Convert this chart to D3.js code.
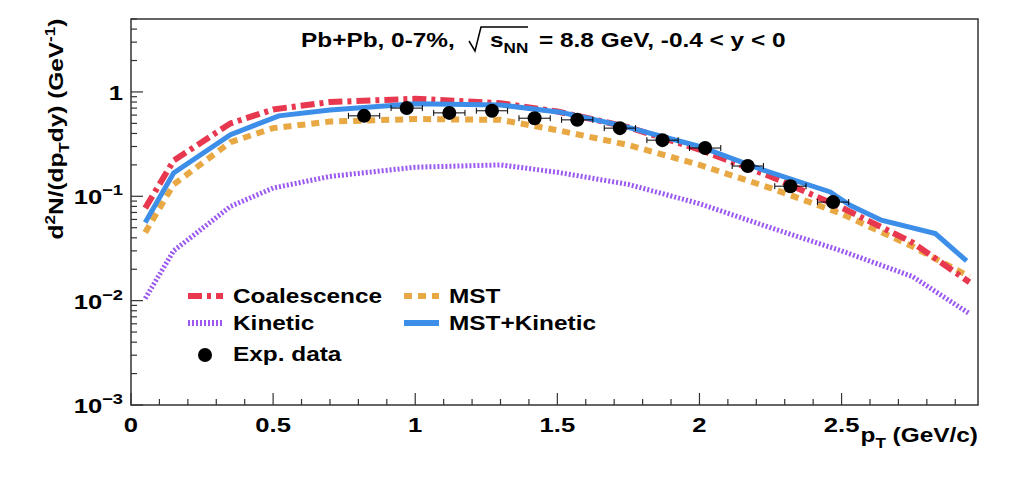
<!DOCTYPE html>
<meta charset="utf-8">
<html>
<head>
<script src="https://cdn.jsdelivr.net/npm/d3@7"></script>
<style>
body { margin:0; background:#fff; }
text { font-family:'Liberation Sans', Arial, sans-serif; font-weight:bold; fill:#000; }
</style>
</head>
<body>
<div id="chart"></div>
<script>

// data
var ptData   = [0.82, 0.97, 1.12, 1.27, 1.42, 1.57, 1.72, 1.87, 2.02, 2.17, 2.32, 2.47];
var yieldData = [0.59, 0.70, 0.63, 0.66, 0.56, 0.54, 0.45, 0.345, 0.29, 0.195, 0.125, 0.088];
var ptErr = 0.055;

var ptCoal = [0.05, 0.15, 0.35, 0.5, 0.7, 1.0, 1.3, 1.5, 1.75, 2.0, 2.25, 2.5, 2.75, 2.95];
var coal   = [0.077, 0.22, 0.5, 0.68, 0.8, 0.86, 0.78, 0.65, 0.46, 0.28, 0.155, 0.078, 0.036, 0.015];
var mst    = [0.045, 0.13, 0.33, 0.45, 0.52, 0.55, 0.54, 0.43, 0.31, 0.20, 0.12, 0.068, 0.033, 0.017];
var kin    = [0.0105, 0.03, 0.08, 0.12, 0.155, 0.19, 0.2, 0.17, 0.13, 0.085, 0.05, 0.03, 0.017, 0.0075];

var ptMK = [0.05, 0.15, 0.35, 0.52, 0.70, 1.0, 1.30, 1.51, 1.72, 2.0, 2.22, 2.46, 2.53, 2.64, 2.83, 2.94];
var mstKin = [0.056, 0.167, 0.39, 0.59, 0.67, 0.77, 0.75, 0.64, 0.48, 0.30, 0.18, 0.11, 0.082, 0.059, 0.044, 0.024];

var xTicks = [0, 0.5, 1, 1.5, 2, 2.5];

var margin = {left:131, top:19, right:1013-978, bottom:484-405},
    width = 1013 - margin.left - margin.right,
    height = 484 - margin.top - margin.bottom;

var SX = 1.22; // horizontal stretch of the text, as in the original

var svg = d3.select("#chart").append("svg")
    .attr("width", 1013).attr("height", 484);
var g = svg.append("g").attr("transform", "translate(" + margin.left + "," + margin.top + ")");

// text at (px,py) stretched horizontally
function label(parent, px, py, size, anchor) {
  return parent.append("text")
    .attr("transform", "translate(" + px + "," + py + ") scale(" + SX + ",1)")
    .attr("text-anchor", anchor || "start").style("font-size", size + "px");
}

var x = d3.scaleLinear().domain([0, 2.98]).range([0, width]);
var y = d3.scaleLog().domain([1e-3, 5]).range([height, 0]);

g.append("clipPath").attr("id", "clip").append("rect").attr("width", width).attr("height", height);
var plot = g.append("g").attr("clip-path", "url(#clip)");

function curve(xs, ys, color, dash, w) {
  var line = d3.line().x(function(d, i) { return x(xs[i]); }).y(function(d) { return y(d); });
  plot.append("path").datum(ys).attr("d", line)
    .attr("fill", "none").attr("stroke", color).attr("stroke-width", w)
    .attr("stroke-dasharray", dash);
}
curve(ptCoal, kin, "#9b59f0", "2,2", 5);
curve(ptCoal, mst, "#e8a844", "8,6", 6);
curve(ptCoal, coal, "#e8384f", "14,5,4,5", 6);
curve(ptMK, mstKin, "#3c8ee8", null, 5);

// data points
ptData.forEach(function(p, i) {
  var cy = y(yieldData[i]);
  plot.append("line").attr("x1", x(p - ptErr)).attr("x2", x(p + ptErr)).attr("y1", cy).attr("y2", cy)
    .attr("stroke", "#000").attr("stroke-width", 1);
  [p - ptErr, p + ptErr].forEach(function(e) {
    plot.append("line").attr("x1", x(e)).attr("x2", x(e)).attr("y1", cy - 3).attr("y2", cy + 3)
      .attr("stroke", "#000").attr("stroke-width", 1);
  });
  plot.append("circle").attr("cx", x(p)).attr("cy", cy).attr("r", 7).attr("fill", "#000");
});

// frame
g.append("rect").attr("width", width).attr("height", height)
  .attr("fill", "none").attr("stroke", "#333").attr("stroke-width", 1.5);

// x ticks (inside)
d3.range(0, 2.981, 0.1).forEach(function(v) {
  var major = Math.abs(v * 2 - Math.round(v * 2)) < 1e-6;
  var len = major ? 12 : 6;
  g.append("line").attr("x1", x(v)).attr("x2", x(v)).attr("y1", height).attr("y2", height - len)
    .attr("stroke", "#333").attr("stroke-width", 1.2);
});
xTicks.forEach(function(v) {
  label(g, x(v), height + 27, 21, "middle").text(v);
});

// y ticks (inside)
for (var e = -3; e <= 0; e++) {
  for (var m = 1; m <= 9; m++) {
    var v = m * Math.pow(10, e);
    if (v > 5) break;
    var len = m === 1 ? 12 : 6;
    g.append("line").attr("x1", 0).attr("x2", len).attr("y1", y(v)).attr("y2", y(v))
      .attr("stroke", "#333").attr("stroke-width", 1.2);
  }
}
var yl = [[1e-3, "10", "\u22123"], [1e-2, "10", "\u22122"], [1e-1, "10", "\u22121"], [1, "1", null]];
yl.forEach(function(t) {
  var tx = label(g, -8, y(t[0]) + 8, 21, "end");
  tx.append("tspan").text(t[1]);
  if (t[2]) tx.append("tspan").attr("dy", -9).style("font-size", "15px").text(t[2]);
});

// axis titles
var yt = svg.append("text").attr("transform", "translate(63,129) rotate(-90) scale(" + SX + ",1)")
  .attr("text-anchor", "middle").style("font-size", "20px");
yt.append("tspan").text("d");
yt.append("tspan").attr("dy", -8).style("font-size", "14px").text("2");
yt.append("tspan").attr("dy", 8).text("N/(dp");
yt.append("tspan").attr("dy", 6).style("font-size", "14px").text("T");
yt.append("tspan").attr("dy", -6).text("dy) (GeV");
yt.append("tspan").attr("dy", -8).style("font-size", "14px").text("-1");
yt.append("tspan").attr("dy", 8).text(")");

var xt = label(svg, 978, 442, 20, "end");
xt.append("tspan").text("p");
xt.append("tspan").attr("dy", 6).style("font-size", "14px").text("T");
xt.append("tspan").attr("dy", -6).text(" (GeV/c)");

// header
label(svg, 301, 47, 20).text("Pb+Pb, 0-7%,");
var hs = label(svg, 490, 47, 20);
hs.append("tspan").text("s");
hs.append("tspan").attr("dy", 6).style("font-size", "14px").text("NN");
label(svg, 539, 47, 20).text("= 8.8 GeV, -0.4 < y < 0");
svg.append("path").attr("d", "M 469 41 L 475 51 L 481 27 L 528 27")
  .attr("fill", "none").attr("stroke", "#000").attr("stroke-width", 1.5);

// legend
var legend = [
  {x:188, y:296, label:"Coalescence", color:"#e8384f", dash:"14,5,4,5"},
  {x:404, y:296, label:"MST", color:"#e8a844", dash:"8,6"},
  {x:188, y:323, label:"Kinetic", color:"#9b59f0", dash:"2,2"},
  {x:404, y:323, label:"MST+Kinetic", color:"#3c8ee8", dash:null}
];
legend.forEach(function(l) {
  svg.append("line").attr("x1", l.x).attr("x2", l.x + 35).attr("y1", l.y).attr("y2", l.y)
    .attr("stroke", l.color).attr("stroke-width", 6).attr("stroke-dasharray", l.dash);
  label(svg, l.x + 45, l.y + 7, 20).text(l.label);
});
svg.append("circle").attr("cx", 205).attr("cy", 355).attr("r", 7).attr("fill", "#000");
label(svg, 233, 361, 20).text("Exp. data");

</script>
</body>
</html>
